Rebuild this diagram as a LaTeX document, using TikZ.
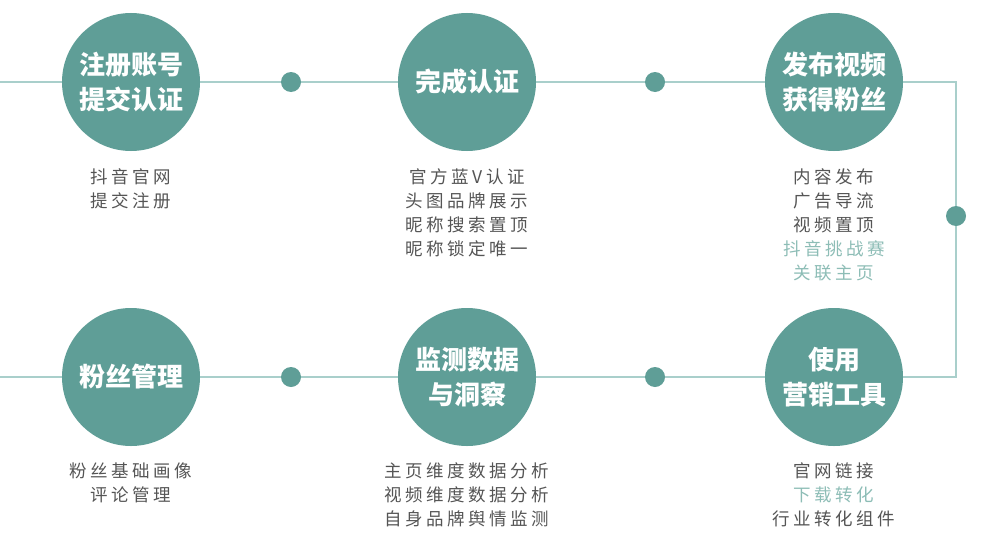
\documentclass[tikz,border=0pt]{standalone}
\usepackage{fontspec}
\setmainfont{Noto Sans CJK SC}
\definecolor{tealc}{HTML}{5F9E97}
\definecolor{linec}{HTML}{A9CFCB}
\definecolor{grayt}{HTML}{555555}
\definecolor{lightt}{HTML}{8DBDB6}
\begin{document}
\begin{tikzpicture}[x=1pt,y=-1pt,
  bigc/.style={circle, fill=tealc, minimum size=138pt, inner sep=0pt, text=white,
    font=\fontsize{26}{35}\selectfont\bfseries, align=center},
  smalldot/.style={circle, fill=tealc, minimum size=20pt, inner sep=0pt},
  subt/.style={font=\fontsize{17.5}{24}\selectfont\addfontfeature{LetterSpace=20},
    text=grayt, align=center, anchor=north, inner sep=0pt},
  conn/.style={draw=linec, line width=1.3pt}]
\useasboundingbox (0,0) rectangle (981,543);
\fill[white] (0,0) rectangle (981,543);
% coordinates
\coordinate (tl) at (0,82);
\coordinate (tr) at (956,82);
\coordinate (br) at (956,377);
\coordinate (bl) at (0,377);
% circles
\node[bigc] (c1) at (131,82) {注册账号\\提交认证};
\node[bigc] (c2) at (467,82) {完成认证};
\node[bigc] (c3) at (834,82) {发布视频\\获得粉丝};
\node[bigc] (c4) at (131,377) {粉丝管理};
\node[bigc] (c5) at (467,377) {监测数据\\与洞察};
\node[bigc] (c6) at (834,377) {使用\\营销工具};
% dots
\node[smalldot] (d1) at (291,82) {};
\node[smalldot] (d2) at (655,82) {};
\node[smalldot] (d3) at (956,216) {};
\node[smalldot] (d4) at (655,377) {};
\node[smalldot] (d5) at (291,377) {};
% connectors
\draw[conn] (tl) -- (c1);
\draw[conn] (c1) -- (d1);
\draw[conn] (d1) -- (c2);
\draw[conn] (c2) -- (d2);
\draw[conn] (d2) -- (c3);
\draw[conn] (c3) -- (tr) -- (d3);
\draw[conn] (d3) -- (br) -- (c6);
\draw[conn] (c6) -- (d4);
\draw[conn] (d4) -- (c5);
\draw[conn] (c5) -- (d5);
\draw[conn] (d5) -- (c4);
\draw[conn] (c4) -- (bl);
% sub texts
\node[subt] (s1) at (131,168) {抖音官网\\提交注册};
\node[subt] (s2) at (467,168) {官方蓝V认证\\头图品牌展示\\昵称搜索置顶\\昵称锁定唯一};
\node[subt] (s3) at (834,168) {内容发布\\广告导流\\视频置顶\\{\color{lightt}抖音挑战赛}\\{\color{lightt}关联主页}};
\node[subt] (s4) at (131,463) {粉丝基础画像\\评论管理};
\node[subt] (s5) at (467,463) {主页维度数据分析\\视频维度数据分析\\自身品牌舆情监测};
\node[subt] (s6) at (834,463) {官网链接\\{\color{lightt}下载转化}\\行业转化组件};
\end{tikzpicture}
\end{document}
